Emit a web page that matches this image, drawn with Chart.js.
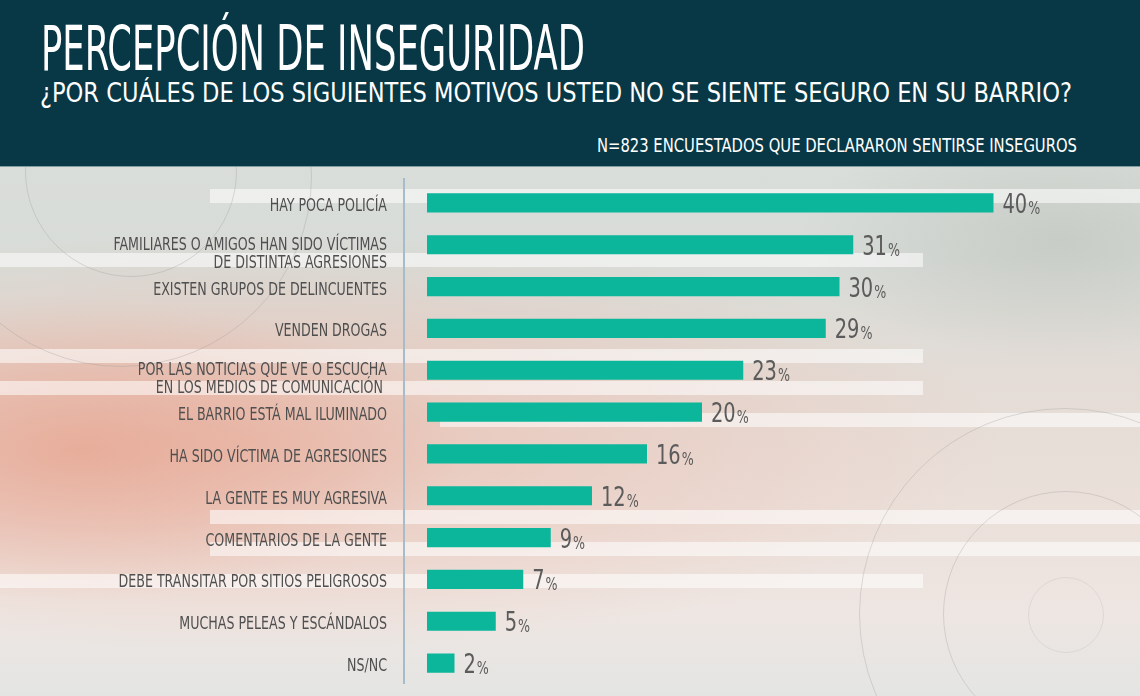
<!DOCTYPE html>
<html lang="es">
<head>
<meta charset="utf-8">
<title>Percepción de inseguridad</title>
<script src="https://cdn.jsdelivr.net/npm/chart.js@4.4.1/dist/chart.umd.min.js"></script>
<style>
  html, body { margin: 0; padding: 0; }
  body {
    width: 1140px; height: 696px; overflow: hidden; position: relative;
    font-family: "DejaVu Sans Condensed", "Liberation Sans", sans-serif;
    background:
      radial-gradient(ellipse 380px 150px at 80px 450px, rgba(230,145,120,0.5), rgba(230,145,120,0) 100%),
      radial-gradient(ellipse 750px 210px at 250px 440px, rgba(236,170,150,0.5), rgba(236,170,150,0) 100%),
      radial-gradient(ellipse 260px 120px at 1060px 240px, rgba(180,185,178,0.45), rgba(180,185,178,0) 100%),
      linear-gradient(to bottom, #dcdfdb 0px, #d8dcd8 260px, #e4dcd6 380px, #ebe0da 520px, #eee6e2 610px, #e4e5e3 696px);
  }
  .cabecera {
    position: absolute; left: 0; top: 0; width: 1140px; height: 166px;
    background: #083846; border-bottom: 1px solid #7f9ea2;
  }
  .texto {
    position: absolute; color: #ffffff; white-space: nowrap; line-height: 1;
    transform-origin: left top;
  }
  #titulo { left: 41px; top: 18px; font-size: 62px; }
  #pregunta { left: 40px; top: 79px; font-size: 27px; }
  #muestra { left: 597px; top: 136px; font-size: 19px; }
  .franja { position: absolute; height: 14px; background: rgba(255,255,255,0.55); }
  .circulo { position: absolute; border-radius: 50%; border: 1.5px solid rgba(150,150,150,0.3); }
  #contenedor { position: absolute; left: 0; top: 167px; width: 1140px; height: 529px; }
</style>
</head>
<body>
<div class="franja" style="left:210px;top:189px;width:930px;"></div>
<div class="franja" style="left:0;top:253px;width:923px;"></div>
<div class="franja" style="left:0;top:349px;width:923px;"></div>
<div class="franja" style="left:0;top:381px;width:923px;"></div>
<div class="franja" style="left:440px;top:413px;width:700px;"></div>
<div class="franja" style="left:210px;top:510px;width:930px;"></div>
<div class="franja" style="left:210px;top:542px;width:930px;"></div>
<div class="franja" style="left:0;top:574px;width:923px;"></div>
<div class="circulo" style="left:25px;top:65px;width:210px;height:210px;"></div>
<div class="circulo" style="left:-70px;top:-15px;width:380px;height:380px;"></div>
<div class="circulo" style="left:859px;top:408px;width:410px;height:410px;"></div>
<div class="circulo" style="left:943px;top:491px;width:244px;height:244px;"></div>
<div class="circulo" style="left:1028px;top:577px;width:74px;height:74px;border-color:rgba(150,150,150,0.18);"></div>

<div class="cabecera">
  <span class="texto" id="titulo" data-ancho="544">PERCEPCIÓN DE INSEGURIDAD</span>
  <span class="texto" id="pregunta" data-ancho="1032">¿POR CUÁLES DE LOS SIGUIENTES MOTIVOS USTED NO SE SIENTE SEGURO EN SU BARRIO?</span>
  <span class="texto" id="muestra" data-ancho="480">N=823 ENCUESTADOS QUE DECLARARON SENTIRSE INSEGUROS</span>
</div>

<div id="contenedor"><canvas id="grafico"></canvas></div>

<script>
// Datos
const categorias = [
  'HAY POCA POLICÍA',
  ['FAMILIARES O AMIGOS HAN SIDO VÍCTIMAS', 'DE DISTINTAS AGRESIONES'],
  'EXISTEN GRUPOS DE DELINCUENTES',
  'VENDEN DROGAS',
  ['POR LAS NOTICIAS QUE VE O ESCUCHA', 'EN LOS MEDIOS DE COMUNICACIÓN '],
  'EL BARRIO ESTÁ MAL ILUMINADO',
  'HA SIDO VÍCTIMA DE AGRESIONES',
  'LA GENTE ES MUY AGRESIVA',
  'COMENTARIOS DE LA GENTE',
  'DEBE TRANSITAR POR SITIOS PELIGROSOS',
  'MUCHAS PELEAS Y ESCÁNDALOS',
  'NS/NC'
];
// largo de las barras tal como se ve (la primera es algo más larga que su rótulo)
const valores = [41.2, 31, 30, 29, 23, 20, 16, 12, 9, 7, 5, 2];
// rótulos impresos junto a cada barra
const etiquetas = [40, 31, 30, 29, 23, 20, 16, 12, 9, 7, 5, 2];

const fuente = '"DejaVu Sans Condensed", "Liberation Sans", sans-serif';
const estrechez = 0.78; // la tipografía original es más angosta

// ajustar el ancho de los textos de la cabecera
document.querySelectorAll('.texto').forEach(function (el) {
  const objetivo = parseFloat(el.dataset.ancho);
  const real = el.getBoundingClientRect().width;
  el.style.transform = 'scaleX(' + (objetivo / real) + ')';
});

// texto angosto: se escala en horizontal alrededor de x
function textoAngosto(ctx, texto, x, y, escala) {
  ctx.save();
  ctx.translate(x, y);
  ctx.scale(escala, 1);
  ctx.fillText(texto, 0, 0);
  ctx.restore();
  return ctx.measureText(texto).width * escala;
}

// línea vertical del eje y rótulos de categoría
const ejeCategorias = {
  id: 'ejeCategorias',
  beforeDatasetsDraw(chart) {
    const { ctx, chartArea } = chart;
    const escalaY = chart.scales.y;
    ctx.save();
    ctx.strokeStyle = '#a7bccb';
    ctx.lineWidth = 2;
    ctx.beginPath();
    ctx.moveTo(chartArea.left - 23, chartArea.top - 4);
    ctx.lineTo(chartArea.left - 23, chartArea.bottom);
    ctx.stroke();

    ctx.fillStyle = '#4f4f4f';
    ctx.font = '18px ' + fuente;
    ctx.textAlign = 'right';
    ctx.textBaseline = 'alphabetic';
    const xTexto = chartArea.left - 40;
    categorias.forEach(function (cat, i) {
      const yc = escalaY.getPixelForValue(i);
      const lineas = Array.isArray(cat) ? cat : [cat];
      const y0 = lineas.length > 1 ? yc + 5 : yc + 8;
      lineas.forEach(function (linea, j) {
        textoAngosto(ctx, linea, xTexto, y0 + j * 18, estrechez);
      });
    });
    ctx.restore();
  }
};

// rótulos de porcentaje al final de cada barra
const rotulos = {
  id: 'rotulos',
  afterDatasetsDraw(chart) {
    const { ctx } = chart;
    const barras = chart.getDatasetMeta(0).data;
    ctx.save();
    ctx.fillStyle = '#5b5b5b';
    ctx.textBaseline = 'alphabetic';
    ctx.textAlign = 'left';
    barras.forEach(function (barra, i) {
      const x = barra.x + 9;
      const y = barra.y + 10;
      ctx.font = '27px ' + fuente;
      const w = textoAngosto(ctx, String(etiquetas[i]), x, y, 0.8);
      ctx.font = '18px ' + fuente;
      textoAngosto(ctx, '%', x + w + 1, y + 1, 0.78);
    });
    ctx.restore();
  }
};

const ctx = document.getElementById('grafico').getContext('2d');
new Chart(ctx, {
  type: 'bar',
  data: {
    labels: categorias,
    datasets: [{
      data: valores,
      backgroundColor: '#0bb69b',
      borderWidth: 0,
      barPercentage: 0.46,
      categoryPercentage: 1
    }]
  },
  options: {
    indexAxis: 'y',
    responsive: true,
    maintainAspectRatio: false,
    animation: false,
    layout: { padding: { top: 15, bottom: 12, left: 0, right: 25.5 } },
    plugins: {
      legend: { display: false },
      tooltip: { enabled: false }
    },
    scales: {
      x: { display: false, min: 0, max: 50 },
      y: {
        afterFit: function (scale) {
          scale.width = 427;
          scale.paddingTop = 0;
          scale.paddingBottom = 0;
        },
        grid: { display: false, drawTicks: false },
        border: { display: false },
        ticks: { padding: 0, autoSkip: false, color: 'rgba(0,0,0,0)', font: { family: fuente, size: 18 } }
      }
    }
  },
  plugins: [ejeCategorias, rotulos]
});
</script>
</body>
</html>
